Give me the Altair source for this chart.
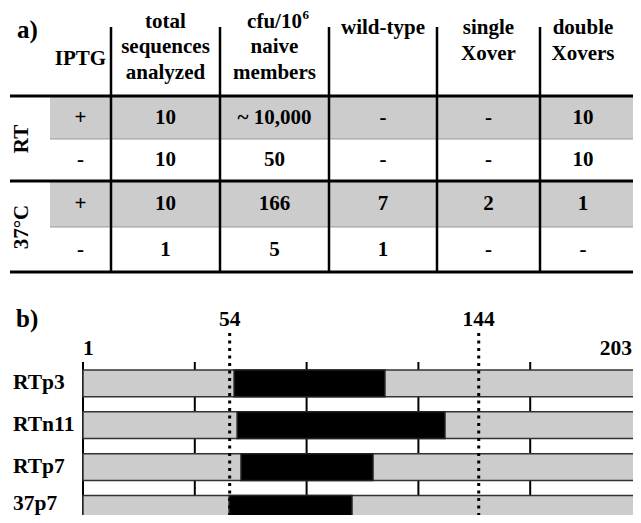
import altair as alt
import pandas as pd

# ---------------- data: panel a) table ----------------
col_keys = ["IPTG", "total", "cfu", "wild", "single", "double"]
col_headers = [
    ["IPTG"],
    ["total", "sequences", "analyzed"],
    ["cfu/10", "naive", "members"],
    ["wild-type"],
    ["single", "Xover"],
    ["double", "Xovers"],
]
cfu_exponent = "6"
row_groups = ["RT", "37°C"]
iptg = ["+", "-", "+", "-"]
total_sequences = ["10", "10", "10", "1"]
cfu_per_million = ["~ 10,000", "50", "166", "5"]
wild_type = ["-", "-", "7", "1"]
single_xover = ["-", "-", "2", "-"]
double_xovers = ["10", "10", "1", "-"]

# ---------------- data: panel b) crossover map ----------------
clones = ["RTp3", "RTn11", "RTp7", "37p7"]
seq_first, seq_last = 1, 203
xover_from = [55.6, 56.7, 58.1, 53.8]
xover_to = [110.1, 131.8, 105.8, 98.2]
boundaries = [54, 144]
n_divisions = 5

# ---------------- layout / style ----------------
W, H = 625, 507
FONT = "Liberation Serif"
GRAY = "#cccccc"
TX = alt.Scale(domain=[-2, -1, 0, 1, 2, 3, 4, 5],
               range=[2, 42, 103, 212, 321, 429, 532, 618], zero=False, nice=False)
TY = alt.Scale(domain=[0, 1, 2, 3, 4], range=[88, 131, 173, 219, 264], zero=False, nice=False)
BX = alt.Scale(domain=[seq_first, seq_last], range=[75, 634], zero=False, nice=False)
BY = alt.Scale(domain=[0, 4], range=[362, 529.3], zero=False, nice=False)
HEAD_Y = {"IPTG": [-0.86], "total": [-1.72, -1.13, -0.535], "cfu": [-1.72, -1.13, -0.535],
          "wild": [-1.58], "single": [-1.58, -0.98], "double": [-1.58, -0.98]}
HEAD_TOP = -1.605
TABLE_RIGHT = 5.3
BAR_H = 0.64
LABEL_DY = [0, 0, 0, -5]


def tx(f):
    return alt.X(f, type="quantitative", scale=TX, axis=None)


def ty(f):
    return alt.Y(f, type="quantitative", scale=TY, axis=None)


def bx(f):
    return alt.X(f, type="quantitative", scale=BX, axis=None)


def by(f):
    return alt.Y(f, type="quantitative", scale=BY, axis=None)


def txt(df, size=21, **kw):
    return alt.Chart(pd.DataFrame(df)).mark_text(
        font=FONT, fontWeight="bold", fontSize=size, color="black", **kw)


layers = []

# ---- table ----
n_rows = len(iptg)
gray_rows = [{"y": r, "y2": r + 1, "x": -1, "x2": TABLE_RIGHT} for r in range(n_rows) if iptg[r] == "+"]
layers.append(alt.Chart(pd.DataFrame(gray_rows)).mark_rect(color=GRAY).encode(
    x=tx("x"), x2="x2", y=ty("y"), y2="y2"))
layers.append(alt.Chart(pd.DataFrame([{"y": g["y2"], "x": -1, "x2": TABLE_RIGHT} for g in gray_rows]))
              .mark_rule(color="#9a9a9a", strokeWidth=1).encode(x=tx("x"), x2="x2", y=ty("y")))

vlines = [{"x": j, "y": HEAD_TOP, "y2": n_rows} for j in range(len(col_keys) - 1)]
layers.append(alt.Chart(pd.DataFrame(vlines)).mark_rule(color="black", strokeWidth=2.5).encode(
    x=tx("x"), y=ty("y"), y2="y2"))

rows_per_group = n_rows // len(row_groups)
hlines = [{"y": g * rows_per_group, "x": -2, "x2": TABLE_RIGHT} for g in range(len(row_groups) + 1)]
layers.append(alt.Chart(pd.DataFrame(hlines)).mark_rule(color="black", strokeWidth=3).encode(
    x=tx("x"), x2="x2", y=ty("y")))

cells = []
for j, vals in enumerate([iptg, total_sequences, cfu_per_million, wild_type, single_xover, double_xovers]):
    for r, v in enumerate(vals):
        cells.append({"x": j - 0.5, "y": r + 0.5, "t": v})
layers.append(txt(cells, align="center", baseline="middle").encode(x=tx("x"), y=ty("y"), text="t:N"))

heads = []
for j, key in enumerate(col_keys):
    for k, line in enumerate(col_headers[j]):
        heads.append({"x": j - 0.5, "y": HEAD_Y[key][k], "t": line})
layers.append(txt(heads, align="center", baseline="middle").encode(x=tx("x"), y=ty("y"), text="t:N"))
ci = col_keys.index("cfu")
layers.append(txt([{"x": ci - 0.5, "y": HEAD_Y["cfu"][0], "t": cfu_exponent}], size=13,
                  align="left", baseline="middle", dx=28, dy=-7).encode(x=tx("x"), y=ty("y"), text="t:N"))

glabels = [{"x": -1.7, "y": g * rows_per_group + rows_per_group / 2, "t": name} for g, name in enumerate(row_groups)]
layers.append(txt(glabels, angle=270, align="center", baseline="middle").encode(x=tx("x"), y=ty("y"), text="t:N"))
layers.append(txt([{"x": -2, "y": -1.535, "t": "a)"}], size=25, align="left", baseline="middle", dx=7)
              .encode(x=tx("x"), y=ty("y"), text="t:N"))

# ---- panel b ----
step = (seq_last - seq_first) / n_divisions
ticks = [{"x": seq_first + k * step, "y": -0.191, "y2": len(clones)} for k in range(n_divisions + 1)]
layers.append(alt.Chart(pd.DataFrame(ticks)).mark_rule(color="black", strokeWidth=2).encode(
    x=bx("x"), y=by("y"), y2="y2"))

bars = [{"c": c, "x": seq_first, "x2": seq_last, "y": i, "y2": i + BAR_H} for i, c in enumerate(clones)]
layers.append(alt.Chart(pd.DataFrame(bars)).mark_rect(color=GRAY, stroke="#333333", strokeWidth=1.5).encode(
    x=bx("x"), x2="x2", y=by("y"), y2="y2"))
blk = [{"c": c, "x": xover_from[i], "x2": xover_to[i], "y": i, "y2": i + BAR_H} for i, c in enumerate(clones)]
layers.append(alt.Chart(pd.DataFrame(blk)).mark_rect(color="black", stroke="#222222", strokeWidth=1.5).encode(
    x=bx("x"), x2="x2", y=by("y"), y2="y2"))

dots = [{"x": b, "y": -0.885, "y2": len(clones)} for b in boundaries]
layers.append(alt.Chart(pd.DataFrame(dots)).mark_rule(color="black", strokeWidth=3, strokeDash=[3, 4.5]).encode(
    x=bx("x"), y=by("y"), y2="y2"))
layers.append(txt([{"x": b, "y": -1.195, "t": str(b)} for b in boundaries], size=21.5,
                  align="center", baseline="middle").encode(x=bx("x"), y=by("y"), text="t:N"))
layers.append(txt([{"x": seq_first, "y": -0.502, "t": str(seq_first)}], size=21.5,
                  align="left", baseline="middle").encode(x=bx("x"), y=by("y"), text="t:N"))
layers.append(txt([{"x": seq_last, "y": -0.502, "t": str(seq_last)}], size=21.5,
                  align="right", baseline="middle", dx=-10).encode(x=bx("x"), y=by("y"), text="t:N"))
for i, c in enumerate(clones):
    layers.append(txt([{"x": seq_first, "y": i + BAR_H / 2, "t": c}], size=21.5,
                      align="left", baseline="middle", dx=-70, dy=LABEL_DY[i])
                  .encode(x=bx("x"), y=by("y"), text="t:N"))
layers.append(txt([{"x": seq_first, "y": -1.219, "t": "b)"}], size=25, align="left", baseline="middle", dx=-67)
              .encode(x=bx("x"), y=by("y"), text="t:N"))

chart = (alt.layer(*layers)
         .resolve_scale(x="independent", y="independent")
         .properties(width=W, height=H, padding=0, autosize=alt.AutoSizeParams(type="none"),
                     background="white")
         .configure_view(stroke=None))

chart.save("out.html", embed_options={"renderer": "svg", "actions": False})
